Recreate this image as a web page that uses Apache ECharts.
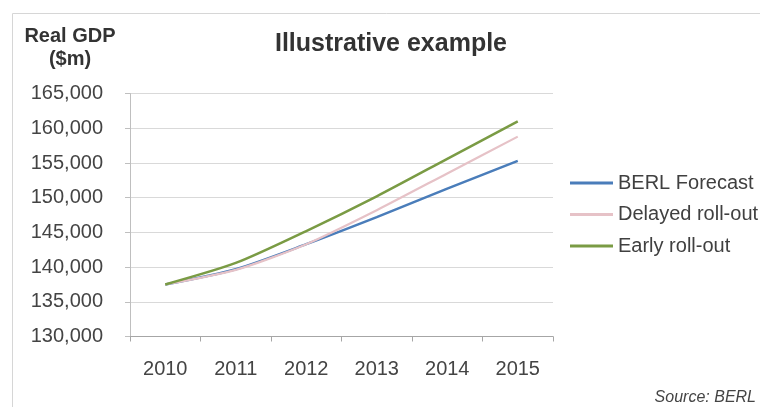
<!DOCTYPE html>
<html>
<head>
<meta charset="utf-8">
<script src="https://cdn.jsdelivr.net/npm/echarts@6/dist/echarts.min.js"></script>
<style>html,body{margin:0;padding:0;background:#fff}#c{width:760px;height:407px}</style>
</head>
<body>
<div id="c"></div>
<script>
var years = ['2010', '2011', '2012', '2013', '2014', '2015'];
var berlForecast = [137500, 139700, 143300, 147200, 151300, 155300];
var delayedRollout = [137500, 139600, 143300, 148200, 153500, 158800];
var earlyRollout = [137500, 140600, 145200, 150200, 155600, 161000];
var seriesNames = ['BERL Forecast', 'Delayed roll-out', 'Early roll-out'];
var seriesColors = ['#4a7dba', '#e6c2c7', '#7a9b44'];

var chart = echarts.init(document.getElementById('c'), null, {renderer: 'canvas'});
var font = 'Liberation Sans, Arial, sans-serif';
chart.setOption({
  animation: false,
  textStyle: {fontFamily: font},
  graphic: [
    {type: 'rect', shape: {x: 12.5, y: 13.5, width: 800, height: 450}, style: {fill: 'none', stroke: '#d6d6d6', lineWidth: 1}},
    {type: 'text', x: 70, y: 25, style: {text: 'Real GDP\n($m)', fill: '#333', font: 'bold 20px Liberation Sans, Arial, sans-serif', lineHeight: 23, textAlign: 'center'}},
    {type: 'text', right: 4, top: 390, style: {text: 'Source: BERL', fill: '#444', font: 'italic 16px Liberation Sans, Arial, sans-serif'}}
  ],
  title: {
    text: 'Illustrative example',
    left: 386, textAlign: 'center', top: 27,
    textStyle: {fontSize: 25, fontWeight: 'bold', color: '#333', fontFamily: font}
  },
  legend: {
    orient: 'vertical', left: 565, top: 168,
    icon: 'rect',
    itemWidth: 43, itemHeight: 3, itemGap: 11.5,
    textStyle: {fontSize: 20, color: '#404040', lineHeight: 20, fontFamily: font},
    data: seriesNames
  },
  grid: {left: 130, right: 207, top: 93.6, bottom: 70.5, containLabel: false},
  xAxis: {
    type: 'category', data: years, boundaryGap: true,
    axisLine: {lineStyle: {color: '#a6a6a6', width: 1}},
    axisTick: {show: true, length: 5, alignWithLabel: false, lineStyle: {color: '#a6a6a6'}},
    axisLabel: {fontSize: 20, color: '#444', margin: 23, fontFamily: font}
  },
  yAxis: {
    type: 'value', min: 130000, max: 165000, interval: 5000,
    axisLine: {show: true, lineStyle: {color: '#bfbfbf'}},
    axisTick: {show: true, length: 5, lineStyle: {color: '#bfbfbf'}},
    splitLine: {lineStyle: {color: '#d9d9d9', width: 1}},
    axisLabel: {fontSize: 20, color: '#444', margin: 27, fontFamily: font,
      formatter: function (v) { return v.toLocaleString('en-US'); }}
  },
  series: [
    {name: seriesNames[0], type: 'line', data: berlForecast, symbol: 'none', smooth: 0.25, color: seriesColors[0], lineStyle: {width: 2.5, color: seriesColors[0]}},
    {name: seriesNames[1], type: 'line', data: delayedRollout, symbol: 'none', smooth: 0.25, color: seriesColors[1], lineStyle: {width: 2.2, color: seriesColors[1]}},
    {name: seriesNames[2], type: 'line', data: earlyRollout, symbol: 'none', smooth: 0.25, color: seriesColors[2], lineStyle: {width: 2.5, color: seriesColors[2]}}
  ]
});
</script>
</body>
</html>
